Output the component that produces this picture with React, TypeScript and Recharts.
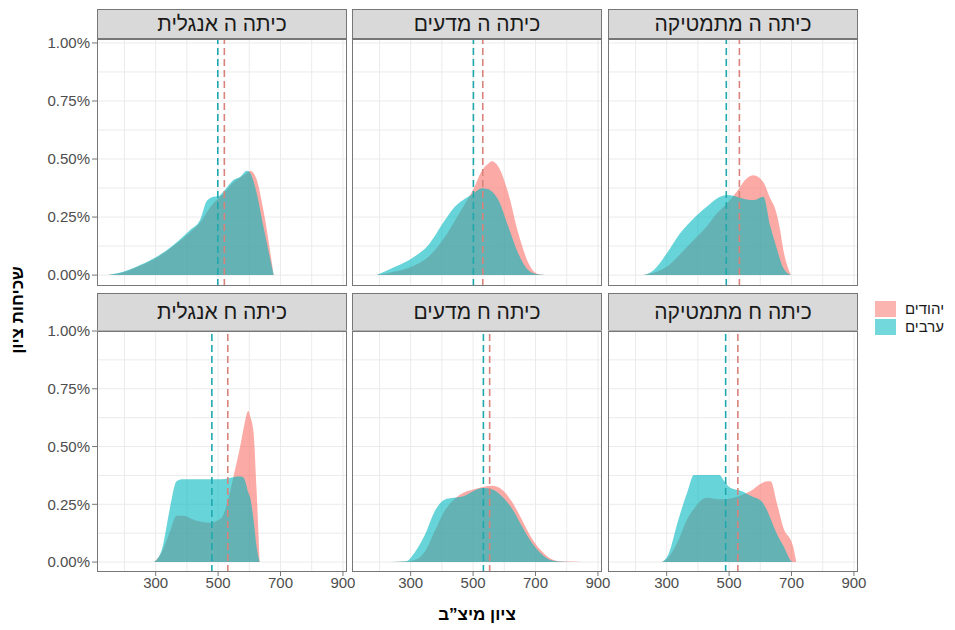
import React from 'react';
import { ComposedChart, Area, XAxis, YAxis, CartesianGrid, ReferenceLine } from 'recharts';

const panelTitles = ['כיתה ה אנגלית', 'כיתה ה מדעים', 'כיתה ה מתמטיקה', 'כיתה ח אנגלית', 'כיתה ח מדעים', 'כיתה ח מתמטיקה'];
const groupNames = ['יהודים', 'ערבים'];

// score grid + density (in %) for each panel, jews / arabs
const e5EngX = [148, 196, 250, 303, 357, 410, 442, 464, 485, 501, 517, 549, 571, 592, 603, 624, 645, 678];
const e5EngJew = [0, 0.012, 0.04, 0.075, 0.125, 0.185, 0.225, 0.27, 0.31, 0.33, 0.35, 0.4, 0.42, 0.44, 0.45, 0.41, 0.28, 0];
const e5EngArab = [0, 0.014, 0.043, 0.079, 0.13, 0.194, 0.237, 0.32, 0.338, 0.34, 0.36, 0.41, 0.424, 0.45, 0.44, 0.35, 0.21, 0];

const e5SciX = [191, 250, 303, 357, 410, 442, 475, 501, 528, 549, 560, 581, 613, 645, 678, 710, 750];
const e5SciJew = [0, 0.015, 0.036, 0.079, 0.165, 0.235, 0.31, 0.37, 0.45, 0.48, 0.49, 0.467, 0.352, 0.18, 0.05, 0.004, 0];
const e5SciArab = [0, 0.036, 0.072, 0.13, 0.237, 0.295, 0.33, 0.352, 0.374, 0.37, 0.36, 0.323, 0.208, 0.093, 0.02, 0.003, 0];

const e5MathX = [225, 257, 300, 343, 386, 429, 461, 494, 525, 557, 578, 610, 632, 645, 664, 672, 698];
const e5MathJew = [0, 0.01, 0.036, 0.09, 0.15, 0.21, 0.266, 0.31, 0.36, 0.417, 0.43, 0.4, 0.33, 0.295, 0.19, 0.122, 0];
const e5MathArab = [0, 0.02, 0.093, 0.18, 0.244, 0.295, 0.33, 0.345, 0.338, 0.326, 0.323, 0.338, 0.21, 0.15, 0.065, 0.035, 0];

const e8EngX = [295, 321, 346, 367, 387, 428, 469, 510, 531, 551, 572, 582, 597, 603, 613, 623, 633];
const e8EngJew = [0, 0.046, 0.133, 0.2, 0.2, 0.18, 0.17, 0.19, 0.264, 0.38, 0.51, 0.58, 0.655, 0.63, 0.568, 0.32, 0];
const e8EngArab = [0, 0.06, 0.235, 0.35, 0.358, 0.358, 0.358, 0.358, 0.362, 0.368, 0.37, 0.365, 0.3, 0.278, 0.19, 0.07, 0];

const e8SciX = [238, 285, 315, 346, 377, 408, 438, 469, 500, 531, 562, 592, 623, 654, 685, 715, 746, 777, 810, 855];
const e8SciJew = [0, 0.002, 0.01, 0.046, 0.133, 0.22, 0.27, 0.3, 0.314, 0.325, 0.33, 0.314, 0.264, 0.19, 0.11, 0.054, 0.017, 0.004, 0.002, 0];
const e8SciArab = [0, 0.003, 0.046, 0.119, 0.22, 0.27, 0.278, 0.285, 0.307, 0.32, 0.314, 0.285, 0.235, 0.162, 0.09, 0.04, 0.01, 0.002, 0, 0];

const e8MathX = [285, 305, 336, 367, 387, 428, 469, 485, 505, 541, 572, 603, 623, 633, 654, 674, 705, 715];
const e8MathJew = [0, 0.02, 0.09, 0.19, 0.23, 0.278, 0.272, 0.272, 0.275, 0.29, 0.31, 0.34, 0.35, 0.35, 0.25, 0.148, 0.068, 0];
const e8MathArab = [0, 0.032, 0.177, 0.307, 0.377, 0.377, 0.377, 0.35, 0.32, 0.307, 0.285, 0.264, 0.22, 0.187, 0.119, 0.07, 0, 0];

const meanJew = [520, 531, 533, 531, 553, 528];
const meanArab = [499, 501, 491, 480, 533, 489];

const xTicks = [300, 500, 700, 900];
const yTicks = [0, 0.25, 0.5, 0.75, 1];
const xGrid = [200, 300, 400, 500, 600, 700, 800, 900];
const yGrid = [0, 0.125, 0.25, 0.375, 0.5, 0.625, 0.75, 0.875, 1];

const panelSeries = [
  [e5EngX, e5EngJew, e5EngArab],
  [e5SciX, e5SciJew, e5SciArab],
  [e5MathX, e5MathJew, e5MathArab],
  [e8EngX, e8EngJew, e8EngArab],
  [e8SciX, e8SciJew, e8SciArab],
  [e8MathX, e8MathJew, e8MathArab],
];

const JEW = '#F8766D';
const ARAB = '#00B8BE';
const FONT = '"Liberation Sans", Arial, "DejaVu Sans", sans-serif';

const colLeft = [97, 352, 608];
const plotW = 250;
const stripTop = [9, 293];
const stripH = [30, 38];
const plotTop = [39, 331];
const plotH = [247, 241];
const yDomains = [[-0.047, 1.017], [-0.043, 1.0]];
const yAxisW = 60;
const xAxisH = 30;
const padTop = 12;   // room for the 1.00% label
const padRight = 14; // room for the 900 label

function Panel({ idx }: { idx: number }) {
  const row = Math.floor(idx / 3);
  const col = idx % 3;
  const [xs, jew, arab] = panelSeries[idx];
  const rows = xs.map((x, i) => ({ x, jew: jew[i], arab: arab[i] }));
  const leftCol = col === 0;
  const bottomRow = row === 1;
  const left = colLeft[col];
  const tickStyle = { fill: '#4D4D4D', fontSize: 15, fontFamily: FONT };
  return (
    <>
      <div style={{
        position: 'absolute', left, top: stripTop[row], width: plotW, height: stripH[row],
        boxSizing: 'border-box', border: '1.3px solid #777', background: '#D9D9D9',
        display: 'flex', alignItems: 'center', justifyContent: 'center',
        fontFamily: FONT, fontSize: 21, color: '#1A1A1A', direction: 'rtl',
      }}>
        {panelTitles[idx]}
      </div>
      <div style={{ position: 'absolute', left: leftCol ? left - yAxisW : left, top: plotTop[row] - padTop }}>
        <ComposedChart
          width={plotW + (leftCol ? yAxisW : 0) + padRight}
          height={plotH[row] + (bottomRow ? xAxisH : 0) + padTop}
          data={rows}
          margin={{ top: padTop, right: padRight, bottom: 0, left: 0 }}
        >
          <CartesianGrid stroke="#EBEBEB" strokeWidth={1} verticalValues={xGrid} horizontalValues={yGrid} />
          <XAxis
            dataKey="x" type="number" domain={[112, 913]} allowDataOverflow
            ticks={xTicks} interval={0} hide={!bottomRow} height={xAxisH}
            axisLine={false} tickSize={4} tickMargin={1} tick={tickStyle}
            tickLine={{ stroke: '#777' }}
          />
          <YAxis
            type="number" domain={yDomains[row]} allowDataOverflow
            ticks={yTicks} interval={0} hide={!leftCol} width={yAxisW}
            axisLine={false} tickSize={5} tickMargin={2} tick={tickStyle}
            tickLine={{ stroke: '#777' }}
            tickFormatter={(v: number) => v.toFixed(2) + '%'}
          />
          <Area dataKey="jew" type="monotone" stroke="none" fill={JEW} fillOpacity={0.62} isAnimationActive={false} />
          <Area dataKey="arab" type="monotone" stroke="none" fill={ARAB} fillOpacity={0.6} isAnimationActive={false} />
          <ReferenceLine x={meanArab[idx]} stroke="#1FA9AE" strokeWidth={1.6} strokeDasharray="7 4" />
          <ReferenceLine x={meanJew[idx]} stroke="#D9837D" strokeWidth={1.6} strokeDasharray="7 4" />
        </ComposedChart>
      </div>
      <div style={{
        position: 'absolute', left, top: plotTop[row], width: plotW, height: plotH[row],
        boxSizing: 'border-box', border: '1.3px solid #777', pointerEvents: 'none',
      }} />
    </>
  );
}

export default function App() {
  return (
    <div style={{ position: 'absolute', left: 0, top: 0, width: 955, height: 630, background: '#fff', overflow: 'hidden' }}>
      {panelTitles.map((_, i) => <Panel key={i} idx={i} />)}

      {/* axis titles */}
      <div style={{
        position: 'absolute', left: 18, top: 310, transform: 'translate(-50%, -50%) rotate(-90deg)',
        whiteSpace: 'nowrap', fontFamily: FONT, fontWeight: 'bold', fontSize: 17, color: '#000', direction: 'rtl',
      }}>
        שכיחות ציון
      </div>
      <div style={{
        position: 'absolute', left: 477, top: 615, transform: 'translate(-50%, -50%)',
        whiteSpace: 'nowrap', fontFamily: FONT, fontWeight: 'bold', fontSize: 17, color: '#000', direction: 'rtl',
      }}>
        ציון מיצ”ב
      </div>

      {/* legend */}
      {groupNames.map((g, i) => (
        <div key={g} style={{ position: 'absolute', left: 875, top: 300 + i * 18, display: 'flex', alignItems: 'center' }}>
          <div style={{ width: 21, height: 16, background: i === 0 ? JEW : ARAB, opacity: 0.55 }} />
          <div style={{ marginLeft: 9, fontFamily: FONT, fontSize: 15, color: '#1A1A1A', direction: 'rtl' }}>{g}</div>
        </div>
      ))}
    </div>
  );
}
